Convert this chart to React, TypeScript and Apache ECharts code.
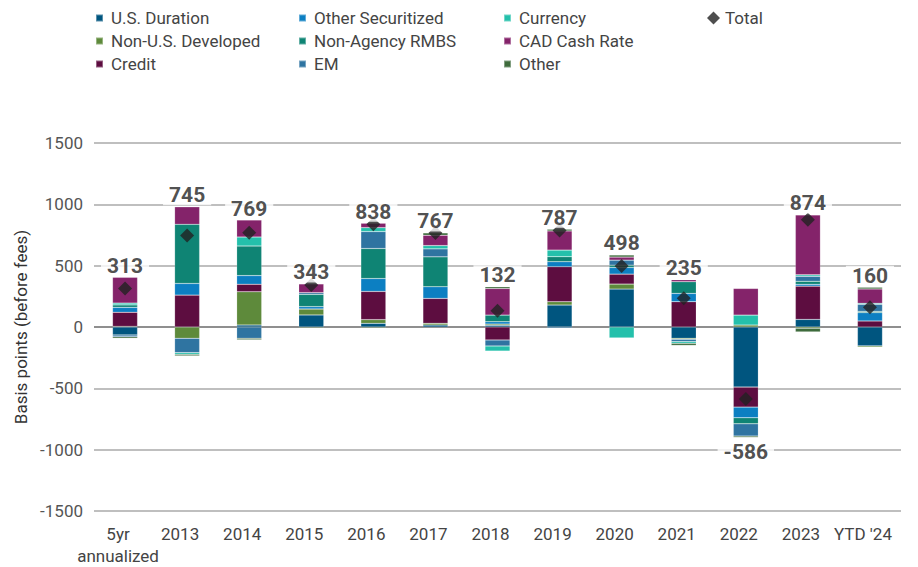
import React, { useEffect, useRef } from "react";
import * as echarts from "echarts";

const categories = ["5yr\nannualized", "2013", "2014", "2015", "2016", "2017", "2018", "2019", "2020", "2021", "2022", "2023", "YTD '24"];

const usDuration = [-65, 0, 16, 98, 30, 16, 14, 179, 309, -92, -490, 62, -154];
const nonUSDeveloped = [5, -92, 271, 49, 30, 14, 10, 27, 41, -8, 16, -10, -10];
const credit = [115, 260, 62, 0, 230, 203, -106, 285, 81, 206, -163, 271, 49];
const otherSecuritized = [40, 95, 70, 19, 105, 95, 19, 41, 54, 68, -87, 15, 68];
const nonAgencyRMBS = [20, 482, 241, 100, 245, 244, 54, 41, 19, 95, -49, 25, 10];
const em = [-15, -117, -92, 14, 138, 65, -49, -10, 41, -19, -100, 40, 58];
const currency = [15, -14, 73, 0, 32, 27, -41, 54, -89, -14, 81, 12, 8];
const cadCashRate = [210, 143, 139, 71, 36, 84, 217, 156, 25, 16, 217, 489, 117];
const other = [-12, -12, -11, -8, -8, 19, 14, 14, 17, -17, -11, -30, 14];
const total = [313, 745, 769, 343, 838, 767, 132, 787, 498, 235, -586, 874, 160];

const yTicks = { min: -1500, max: 1500, interval: 500 };

const components = [
  { name: "U.S. Duration", data: usDuration, color: "#00557f" },
  { name: "Non-U.S. Developed", data: nonUSDeveloped, color: "#5e8a3b" },
  { name: "Credit", data: credit, color: "#5d0d40" },
  { name: "Other Securitized", data: otherSecuritized, color: "#0c7fc2" },
  { name: "Non-Agency RMBS", data: nonAgencyRMBS, color: "#0f8474" },
  { name: "EM", data: em, color: "#2f74a1" },
  { name: "Currency", data: currency, color: "#24c0ab" },
  { name: "CAD Cash Rate", data: cadCashRate, color: "#84236a" },
  { name: "Other", data: other, color: "#3e6b3c" },
];

const legendColumns = [
  ["U.S. Duration", "Non-U.S. Developed", "Credit"],
  ["Other Securitized", "Non-Agency RMBS", "EM"],
  ["Currency", "CAD Cash Rate", "Other"],
  ["Total"],
];
const legendLefts = [95, 298, 503, 707];

export default function App() {
  const ref = useRef<HTMLDivElement>(null);
  useEffect(() => {
    if (!ref.current) return;
    const chart = echarts.init(ref.current, undefined, { renderer: "svg" });
    const posSum = categories.map((_, i) =>
      components.reduce((s, c) => s + (c.data[i] > 0 ? c.data[i] : 0), 0)
    );
    const negSum = categories.map((_, i) =>
      components.reduce((s, c) => s + (c.data[i] < 0 ? c.data[i] : 0), 0)
    );
    const labelData = total.map((t, i) =>
      t >= 0
        ? { value: posSum[i], label: { position: "top", distance: 1 } }
        : { value: negSum[i], label: { position: "bottom", distance: 4 } }
    );
    const font = "Roboto, 'Noto Sans', sans-serif";
    const option: any = {
      animation: false,
      backgroundColor: "#ffffff",
      textStyle: { fontFamily: font },
      grid: { left: 94, right: 17, top: 143, bottom: 55, containLabel: false },
      legend: legendColumns.map((col, k) => ({
        orient: "vertical",
        left: legendLefts[k],
        top: 8,
        padding: 0,
        itemGap: 3,
        itemWidth: k === 3 ? 13 : 7,
        itemHeight: k === 3 ? 13 : 7,
        icon: k === 3 ? "diamond" : "rect",
        selectedMode: false,
        data: col,
        textStyle: {
          fontSize: 17,
          color: "#444",
          lineHeight: 20,
          padding: [0, 0, 0, k === 3 ? 0 : 3],
          fontFamily: font,
        },
      })),
      xAxis: {
        type: "category",
        data: categories,
        axisLine: { show: false },
        axisTick: { show: false },
        axisLabel: {
          interval: 0,
          fontSize: 17,
          color: "#444",
          margin: 12,
          lineHeight: 22,
          padding: [0, 14, 0, 0],
          fontFamily: font,
        },
      },
      yAxis: {
        type: "value",
        min: yTicks.min,
        max: yTicks.max,
        interval: yTicks.interval,
        name: "Basis points (before fees)",
        nameLocation: "middle",
        nameGap: 64,
        nameTextStyle: { fontSize: 17, color: "#333", fontFamily: font },
        axisLine: { show: false },
        axisTick: { show: false },
        axisLabel: {
          fontSize: 17,
          color: "#555",
          margin: 11,
          fontFamily: font,
          formatter: (v: number) => String(v),
        },
        splitLine: {
          lineStyle: {
            color: ["#aaaaaa", "#aaaaaa", "#aaaaaa", "#6a6a6a", "#aaaaaa", "#aaaaaa", "#aaaaaa"],
            width: 1.5,
          },
        },
      },
      series: [
        ...components.map((c) => ({
          name: c.name,
          type: "bar",
          stack: "total",
          barWidth: 25,
          data: c.data,
          itemStyle: { color: c.color, borderColor: "rgba(255,255,255,0.35)", borderWidth: 0.5 },
          emphasis: { disabled: true },
        })),
        {
          name: "Total",
          type: "scatter",
          symbol: "diamond",
          symbolSize: 14,
          data: total,
          itemStyle: { color: "#222222" },
          z: 5,
        },
        {
          name: "labels",
          type: "scatter",
          symbolSize: 1,
          itemStyle: { color: "rgba(0,0,0,0)" },
          data: labelData,
          z: 6,
          label: {
            show: true,
            formatter: (p: any) => String(total[p.dataIndex]),
            fontSize: 21,
            fontWeight: "bold",
            color: "#222",
            fontFamily: "'Liberation Sans Narrow', Roboto, sans-serif",
            backgroundColor: "#ffffff",
            padding: [0, 6],
            lineHeight: 20,
          },
        },
      ],
    };
    chart.setOption(option);
    return () => chart.dispose();
  }, []);
  return (
    <div
      ref={ref}
      style={{ position: "fixed", left: 0, top: 0, width: 918, height: 567 }}
    />
  );
}
